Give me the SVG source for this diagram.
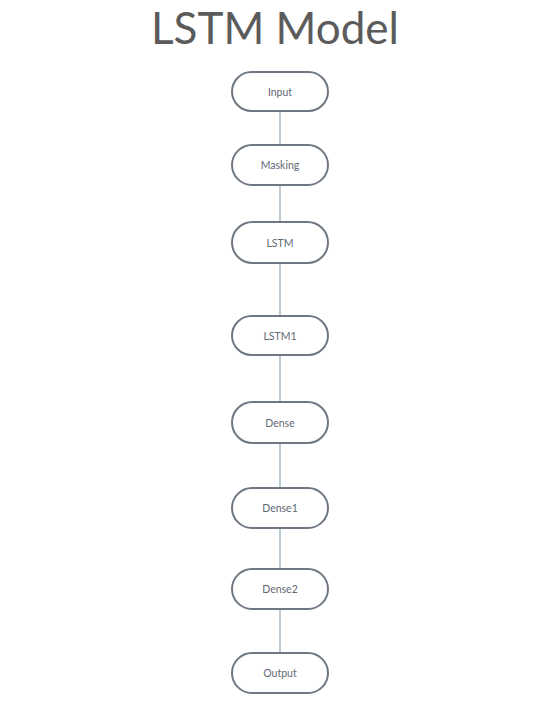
<svg xmlns="http://www.w3.org/2000/svg" width="553" height="709" viewBox="0 0 553 709">
  <style>
    .title { font-family: Lato, "Liberation Sans", sans-serif; font-size: 44px; fill: #5b5b5b; text-anchor: middle; }
    .node rect { fill: #ffffff; stroke: #6e7782; stroke-width: 2; }
    .node text { font-family: Lato, "Liberation Sans", sans-serif; font-size: 10.5px; fill: #5f6873; text-anchor: middle; dominant-baseline: central; }
    .edge { stroke: #bccad4; stroke-width: 2; fill: none; }
  </style>
  <rect width="553" height="709" fill="#ffffff"/>
  <text class="title" x="275" y="44">LSTM Model</text>

  <g id="connectors">
    <line class="edge" x1="280" y1="111" x2="280" y2="145"/>
    <line class="edge" x1="280" y1="185" x2="280" y2="222"/>
    <line class="edge" x1="280" y1="263" x2="280" y2="316"/>
    <line class="edge" x1="280" y1="355" x2="280" y2="402"/>
    <line class="edge" x1="280" y1="443" x2="280" y2="488"/>
    <line class="edge" x1="280" y1="528" x2="280" y2="569"/>
    <line class="edge" x1="280" y1="609" x2="280" y2="653"/>
  </g>

  <g id="input" class="node"><rect x="232" y="72" width="96" height="39" rx="19.5"/><text x="280" y="92">Input</text></g>
  <g id="masking" class="node"><rect x="232" y="145" width="96" height="40" rx="20"/><text x="280" y="165">Masking</text></g>
  <g id="lstm" class="node"><rect x="232" y="222" width="96" height="41" rx="20.5"/><text x="280" y="243">LSTM</text></g>
  <g id="lstm1" class="node"><rect x="232" y="316" width="96" height="39" rx="19.5"/><text x="280" y="336">LSTM1</text></g>
  <g id="dense" class="node"><rect x="232" y="402" width="96" height="41" rx="20.5"/><text x="280" y="423">Dense</text></g>
  <g id="dense1" class="node"><rect x="232" y="488" width="96" height="40" rx="20"/><text x="280" y="508">Dense1</text></g>
  <g id="dense2" class="node"><rect x="232" y="569" width="96" height="40" rx="20"/><text x="280" y="589">Dense2</text></g>
  <g id="output" class="node"><rect x="232" y="653" width="96" height="40" rx="20"/><text x="280" y="673">Output</text></g>
</svg>
